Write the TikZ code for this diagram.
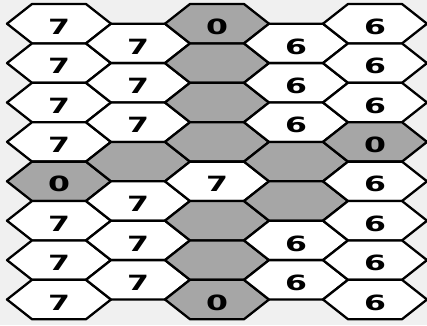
\documentclass[tikz,border=0pt]{standalone}
\usepackage{fontspec}
\newfontfamily\digitfont{DejaVu Sans}
\definecolor{bgcol}{HTML}{F0F0F0}
\definecolor{cellgray}{HTML}{A6A6A6}
\tikzset{
  hexcell/.style={draw=black, line width=2.3pt, line join=round},
  w/.style={hexcell, fill=white},
  g/.style={hexcell, fill=cellgray},
  digit/.style={font=\digitfont\bfseries\fontsize{21}{21}\selectfont, inner sep=0pt}
}
\newcommand\hexcell[5]{%
  \path[#4] (#2-52,#3) -- (#2-27,#3-19.7) -- (#2+27,#3-19.7) -- (#2+52,#3)
    -- (#2+27,#3+19.7) -- (#2-27,#3+19.7) -- cycle;
  \node[digit] (#1) at (#2,#3+3) {\scalebox{1.5}[1]{#5}};
}
\begin{document}
\begin{tikzpicture}[x=1pt,y=-1pt]
\fill[bgcol] (0,0) rectangle (427,325);
\useasboundingbox (0,0) rectangle (427,325);
% column 0
\foreach \st/\lab [count=\r from 0] in {w/7,w/7,w/7,w/7,g/0,w/7,w/7,w/7}{
  \pgfmathsetmacro\yy{23.7+39.4*\r}
  \hexcell{c0r\r}{59}{\yy}{\st}{\lab}
}
% column 1
\foreach \st/\lab [count=\r from 0] in {w/7,w/7,w/7,g/{},w/7,w/7,w/7}{
  \pgfmathsetmacro\yy{43.4+39.4*\r}
  \hexcell{c1r\r}{138}{\yy}{\st}{\lab}
}
% column 2
\foreach \st/\lab [count=\r from 0] in {g/0,g/{},g/{},g/{},w/7,g/{},g/{},g/0}{
  \pgfmathsetmacro\yy{23.7+39.4*\r}
  \hexcell{c2r\r}{217}{\yy}{\st}{\lab}
}
% column 3
\foreach \st/\lab [count=\r from 0] in {w/6,w/6,w/6,g/{},g/{},w/6,w/6}{
  \pgfmathsetmacro\yy{43.4+39.4*\r}
  \hexcell{c3r\r}{296}{\yy}{\st}{\lab}
}
% column 4
\foreach \st/\lab [count=\r from 0] in {w/6,w/6,w/6,g/0,w/6,w/6,w/6,w/6}{
  \pgfmathsetmacro\yy{23.7+39.4*\r}
  \hexcell{c4r\r}{375}{\yy}{\st}{\lab}
}
\end{tikzpicture}
\end{document}
